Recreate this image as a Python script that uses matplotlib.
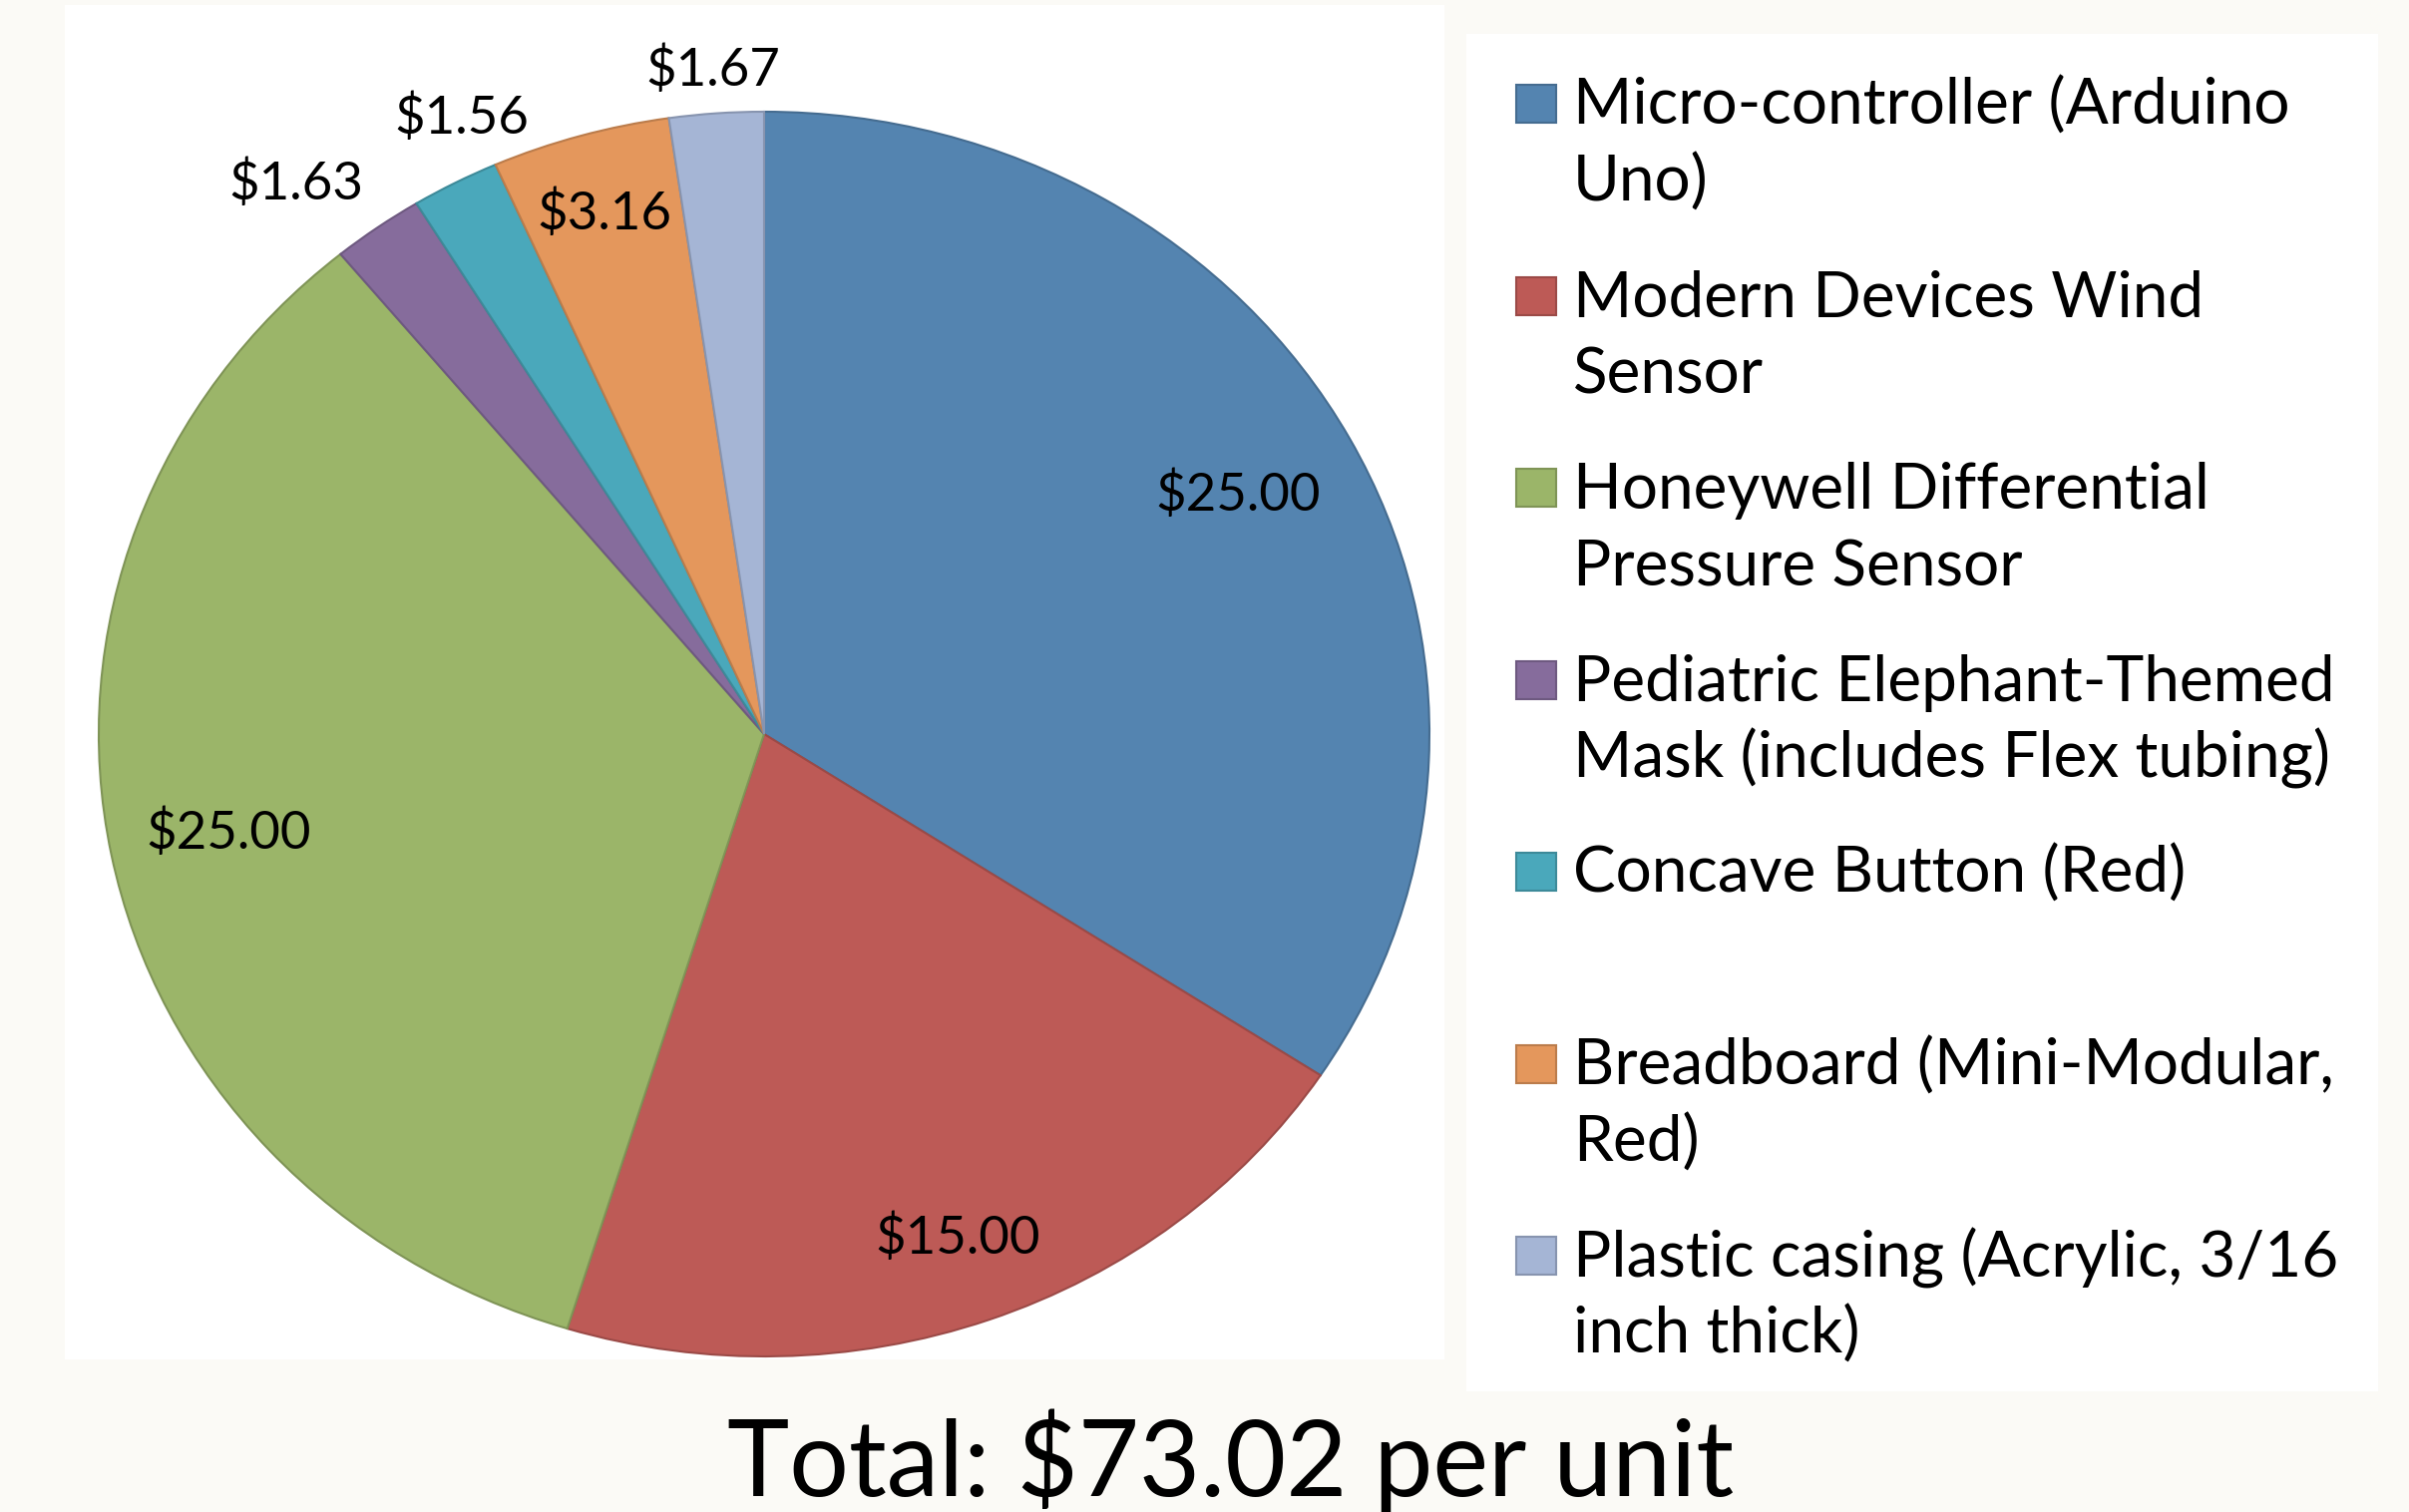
import numpy as np
import matplotlib
matplotlib.use("Agg")
import matplotlib.pyplot as plt
from matplotlib.patches import Rectangle
from matplotlib.colors import to_rgb

plt.rcParams["font.family"] = ["Lato", "DejaVu Sans"]

# data
items = [
    "Micro-controller (Arduino\nUno)",
    "Modern Devices Wind\nSensor",
    "Honeywell Differential\nPressure Sensor",
    "Pediatric Elephant-Themed\nMask (includes Flex tubing)",
    "Concave Button (Red)",
    "Breadboard (Mini-Modular,\nRed)",
    "Plastic casing (Acrylic, 3/16\ninch thick)",
]
costs = [25.00, 15.00, 25.00, 1.63, 1.56, 3.16, 1.67]
colors = ["#5484b0", "#bd5a56", "#9bb569", "#866c9c", "#4aa8bb", "#e4975c", "#a5b5d5"]
total_text = "Total: $73.02 per unit"

W, H = 2415, 1516
fig = plt.figure(figsize=(W / 100, H / 100), dpi=100)
fig.patch.set_facecolor("#fbfaf6")

# background layer in pixel coords
bg = fig.add_axes([0, 0, 1, 1])
bg.set_xlim(0, W)
bg.set_ylim(H, 0)
bg.axis("off")
bg.add_patch(Rectangle((65, 5), 1383, 1358, facecolor="white", edgecolor="none"))
bg.add_patch(Rectangle((1470, 34), 914, 1361, facecolor="white", edgecolor="none"))

# pie (stretched a little, like the original)
cx, cy, rx, ry = 766, 736, 667, 624
ax = fig.add_axes([(cx - rx) / W, (H - cy - ry) / H, 2 * rx / W, 2 * ry / H])
edge = [tuple(c * 0.82 for c in to_rgb(col)) for col in colors]
wedges, _ = ax.pie(costs, colors=colors, startangle=90, counterclock=False,
                   wedgeprops=dict(linewidth=1.5))
for w, ec in zip(wedges, edge):
    w.set_edgecolor(ec)
ax.set_aspect("auto")
ax.set_xlim(-1, 1)
ax.set_ylim(-1, 1)
ax.axis("off")

label_r = [0.81, 0.86, 0.82, 1.13, 1.09, 0.87, 1.07]
label_da = [0, 0, 0, 3, -3, 0, 0]
for w, v, r, da in zip(wedges, costs, label_r, label_da):
    ang = np.deg2rad((w.theta1 + w.theta2) / 2 + da)
    ax.text(r * np.cos(ang), r * np.sin(ang), f"${v:.2f}", ha="center", va="center",
            fontsize=38, color="black", clip_on=False)

# legend
y0 = 125
for i, (lab, col, ec) in enumerate(zip(items, colors, edge)):
    yb = y0 + i * 192.5
    bg.add_patch(Rectangle((1520, yb - 40), 40, 38, facecolor=col, edgecolor=ec, linewidth=1.5))
    for j, line in enumerate(lab.split("\n")):
        bg.text(1577, yb + j * 77, line, ha="left", va="baseline", fontsize=46,
                color="black")

bg.text(1234, 1500, total_text, ha="center", va="baseline", fontsize=76, color="black")

fig.savefig("out.png", dpi=100, facecolor=fig.get_facecolor())
